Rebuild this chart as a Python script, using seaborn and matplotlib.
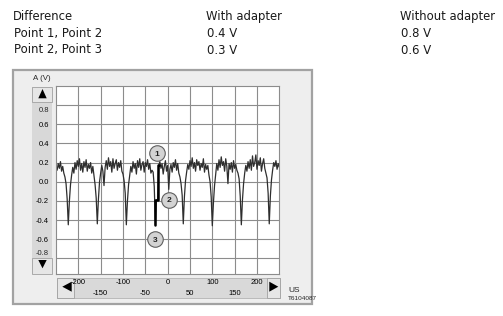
import numpy as np
import pandas as pd
import matplotlib
matplotlib.use("Agg")
import matplotlib.pyplot as plt
import seaborn as sns
from matplotlib.patches import Rectangle, Polygon

# ---------------- data ----------------
x_start = -250.0
x_step = 2.5
signal_v = [
    0.17, 0.12, 0.19, 0.14, 0.21, 0.11, 0.16, 0.09,
    0.05, -0.02, -0.18,
    -0.45,
    -0.20, -0.03, 0.07, 0.15, 0.09, 0.20,
    0.13, 0.22, 0.16, 0.24, 0.12, 0.19, 0.10, 0.21, 0.15, 0.23, 0.11, 0.18, 0.14, 0.20, 0.09, 0.16,
    0.06, -0.03, -0.17,
    -0.44,
    -0.18, 0.0, 0.09, 0.17, 0.11,
    -0.04,
    0.15, 0.22, 0.13, 0.25, 0.16, 0.21, 0.10, 0.24, 0.14, 0.19, 0.23, 0.12, 0.20, 0.15, 0.22, 0.11,
    0.08, 0.01, -0.12,
    -0.45,
    -0.20, -0.03, 0.07, 0.16, 0.10, 0.21, 0.14,
    0.19, 0.08, 0.22, 0.15, 0.24, 0.12, 0.18, 0.21, 0.10, 0.20, 0.16, 0.23, 0.13, 0.19, 0.09,
    0.12, 0.10, -0.05,
    -0.45, -0.19, -0.19, 0.17,
    0.21, 0.14, 0.19, 0.08, 0.16, 0.22, 0.11, 0.17,
    -0.08,
    0.13, 0.18, 0.10, 0.20, 0.15, 0.23, 0.12, 0.19, 0.09,
    0.05, -0.02, -0.14,
    -0.44,
    -0.16, 0.01, 0.10, 0.18, 0.13, 0.22,
    0.16, 0.25, 0.14, 0.20, 0.11, 0.23, 0.17, 0.21, 0.12, 0.19, 0.15, 0.24, 0.10, 0.18, 0.13, 0.17,
    0.07, 0.0, -0.16,
    -0.46,
    -0.22, -0.04, 0.08, 0.19, 0.12, 0.23, 0.15, 0.26, 0.17, 0.21, 0.11, 0.24, 0.16,
    -0.02,
    0.19, 0.13, 0.20, 0.10, 0.22, 0.14, 0.18, 0.12,
    0.09, 0.03, -0.15,
    -0.45,
    -0.19, -0.02, 0.09, 0.17, 0.11, 0.21,
    0.14, 0.23, 0.12, 0.27, 0.16, 0.20, 0.28, 0.13, 0.22, 0.17, 0.25, 0.11, 0.19, 0.24, 0.14,
    0.09, 0.04, -0.12,
    -0.44,
    -0.15, 0.02, 0.12, 0.20, 0.16, 0.22, 0.13, 0.19, 0.15,
]
highlight_t = (-27.5, -20.0)
marker_labels = ["1", "2", "3"]
marker_t = [-24, 4, -29]
marker_v = [0.30, -0.19, -0.60]
ytick_vals = [-0.8, -0.6, -0.4, -0.2, 0.0, 0.2, 0.4, 0.6, 0.8]
ytick_labels = ["-0.8", "-0.6", "-0.4", "-0.2", "0.0", "0.2", "0.4", "0.6", "0.8"]
xtick_major = [-200, -100, 0, 100, 200]
xtick_minor = [-150, -50, 50, 150]
table_cols = ["Difference", "With adapter", "Without adapter"]
table_rows = ["Point 1, Point 2", "Point 2, Point 3"]
with_adapter = ["0.4 V", "0.3 V"]
without_adapter = ["0.8 V", "0.6 V"]
y_title = "A (V)"
x_unit = "US"
ref_code = "T6104087"

# ---------------- figure ----------------
sns.set_theme(style="white")
plt.rcParams["font.family"] = ["Liberation Sans", "DejaVu Sans"]
W, H = 503, 316
fig = plt.figure(figsize=(W / 100, H / 100), dpi=100)
fig.patch.set_facecolor("white")


def fx(px):
    return px / W


def fy(py):
    return 1 - py / H


def rect(x0, y0, x1, y1, **kw):
    r = Rectangle((fx(x0), fy(y1)), fx(x1) - fx(x0), fy(y0) - fy(y1),
                  transform=fig.transFigure, **kw)
    fig.add_artist(r)


def tri(pts, **kw):
    p = Polygon([(fx(a), fy(b)) for a, b in pts], closed=True,
                transform=fig.transFigure, **kw)
    fig.add_artist(p)


# panel and controls
rect(12.5, 70.5, 312, 304, facecolor="#eeeeee", edgecolor="#a2a2a2", lw=1.6, zorder=-10)
rect(31.7, 87, 51.7, 273.5, facecolor="#d8d8d8", edgecolor="none", zorder=-9)
rect(31.7, 87, 51.7, 101.7, facecolor="#e6e6e6", edgecolor="#a0a0a0", lw=0.6, zorder=-8)
rect(32.0, 258, 51.7, 273.5, facecolor="#e6e6e6", edgecolor="#a0a0a0", lw=0.6, zorder=-8)
tri([(38.3, 98.3), (46.7, 98.3), (42.5, 89)], facecolor="black", edgecolor="none", zorder=-7)
tri([(38.3, 260), (46.7, 260), (42.5, 268.3)], facecolor="black", edgecolor="none", zorder=-7)

rect(56.7, 277.7, 280, 298.3, facecolor="#d9d9d9", edgecolor="#b4b4b4", lw=0.6, zorder=-9)
rect(56.7, 277.7, 74, 298.3, facecolor="#e6e6e6", edgecolor="#a0a0a0", lw=0.6, zorder=-8)
rect(266.7, 277.7, 280, 298.3, facecolor="#e6e6e6", edgecolor="#a0a0a0", lw=0.6, zorder=-8)
tri([(71.7, 281.7), (71.7, 291.7), (62.3, 286.7)], facecolor="black", edgecolor="none", zorder=-7)
tri([(269.3, 281.7), (269.3, 291.7), (278.3, 286.7)], facecolor="black", edgecolor="none", zorder=-7)

# plot axes
ax = fig.add_axes([fx(56), fy(274), fx(279.3) - fx(56), fy(86) - fy(274)])
ax.set_facecolor("white")

t = x_start + x_step * np.arange(len(signal_v))
df = pd.DataFrame({"t": t, "v": signal_v})
sns.lineplot(data=df, x="t", y="v", ax=ax, color="#2e2e2e", lw=0.9,
             estimator=None, sort=False)
hl = df[(df.t >= highlight_t[0]) & (df.t <= highlight_t[1])]
sns.lineplot(data=hl, x="t", y="v", ax=ax, color="black", lw=1.8,
             estimator=None, sort=False, drawstyle="steps-pre")

sns.scatterplot(x=marker_t, y=marker_v, ax=ax, s=125, color="#d3d3d3",
                edgecolor="#5e5e5e", linewidth=0.8, zorder=5, clip_on=False)
for lab, mt, mv in zip(marker_labels, marker_t, marker_v):
    ax.text(mt, mv, lab, ha="center", va="center_baseline", fontsize=6,
            fontweight="bold", color="#222222", zorder=6)

ax.set_xlim(-250, 250)
ax.set_ylim(-0.964, 1.0)
ax.set_xlabel("")
ax.set_ylabel("")

ax.set_xticks(xtick_major)
ax.set_xticklabels([str(v) for v in xtick_major])
ax.set_xticks(xtick_minor, minor=True)
ax.set_xticklabels([str(v) for v in xtick_minor], minor=True)
ax.tick_params(axis="x", which="major", length=0, pad=3.3, labelsize=5.5, colors="black")
ax.tick_params(axis="x", which="minor", length=0, pad=11.7, labelsize=5.5, colors="black")

ax.set_yticks(ytick_vals)
ax.set_yticklabels(ytick_labels)
ax.tick_params(axis="y", length=0, pad=5, labelsize=5.5, colors="black")
for lbl, val in zip(ax.get_yticklabels(), ytick_vals):
    if abs(val) > 0.7:
        lbl.set_visible(False)
        ax.annotate(lbl.get_text(), xy=(0, val), xycoords=("axes fraction", "data"),
                    xytext=(-7, -4 if val > 0 else 5.5), textcoords="offset pixels",
                    ha="right", va="center_baseline", fontsize=5.5)

ax.grid(True, which="both", color="#8c8c8c", lw=0.8)
ax.set_axisbelow(True)
for sp in ax.spines.values():
    sp.set_color("#8c8c8c")
    sp.set_linewidth(0.8)

# texts
fig.text(fx(32.7), fy(79.5), y_title, fontsize=5.7, va="baseline")
fig.text(fx(288), fy(291.5), x_unit, fontsize=6, va="baseline")
fig.text(fx(288), fy(299.5), ref_code, fontsize=4.6, va="baseline")

hdr = dict(fontsize=8.4, family=["DejaVu Sans"], va="baseline", color="#1a1a1a")
col_x = [12.7, 206, 400]
fig.text(fx(col_x[0]), fy(20), table_cols[0], **hdr)
fig.text(fx(col_x[1]), fy(20), table_cols[1], **hdr)
fig.text(fx(col_x[2]), fy(20), table_cols[2], **hdr)
for r, base in enumerate([36.7, 53.5]):
    fig.text(fx(14), fy(base), table_rows[r], **hdr)
    fig.text(fx(206.7), fy(base), with_adapter[r], **hdr)
    fig.text(fx(401), fy(base), without_adapter[r], **hdr)

fig.savefig("out.png", dpi=100)
